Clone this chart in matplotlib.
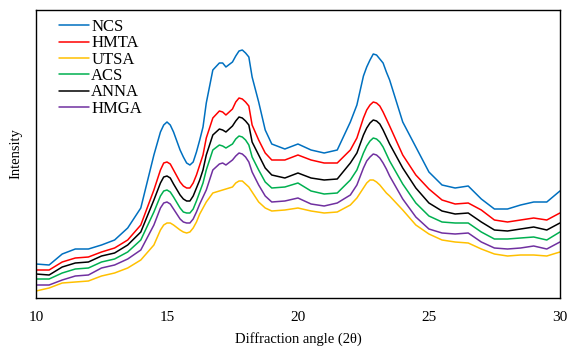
import matplotlib
matplotlib.use('Agg')
import matplotlib.pyplot as plt

plt.rcParams['font.family'] = ['Liberation Serif', 'DejaVu Serif']

# diffraction angle (2theta)
two_theta = [10, 10.5, 11, 11.5, 12, 12.5, 13, 13.5, 14, 14.5, 14.75, 14.875,
             15, 15.125, 15.25, 15.5, 15.625, 15.75, 15.875, 16, 16.125, 16.25, 16.375,
             16.5, 16.75, 17, 17.125, 17.25, 17.5, 17.625, 17.75, 17.875, 18, 18.125,
             18.25, 18.5, 18.75, 19, 19.5, 20, 20.5, 21, 21.5, 22, 22.25, 22.5, 22.625,
             22.75, 22.875, 23, 23.125, 23.25, 23.375, 23.5, 24, 24.5, 25, 25.5, 26,
             26.5, 27, 27.5, 28, 28.5, 29, 29.5, 30]

# intensities (arbitrary units, stacked traces)
ncs = [34, 33, 44, 49, 49, 53, 58, 70, 90, 143, 166, 173,
       176, 173, 166, 148, 141, 135, 133, 136, 146, 158, 171,
       195, 228, 235, 235, 231, 236, 242, 247, 248, 245, 241,
       221, 196, 168, 154, 149, 154, 148, 145, 148, 176, 193, 222, 231,
       238, 244, 243, 239, 235, 226, 218, 176, 151, 126, 113, 110,
       112, 99, 89, 89, 93, 96, 96, 107]
hmta = [28, 28, 36, 40, 41, 46, 50, 58, 73, 108, 128, 135,
        136, 134, 128, 116, 112, 110, 110, 115, 123, 133, 143,
        160, 180, 187, 186, 183, 189, 196, 200, 199, 196, 192,
        173, 158, 145, 138, 138, 143, 138, 135, 135, 148, 160, 180, 188,
        193, 196, 195, 192, 186, 179, 172, 143, 123, 109, 98, 94,
        95, 88, 78, 76, 78, 80, 78, 85]
utsa = [7, 10, 15, 16, 17, 22, 25, 30, 38, 53, 68, 73,
        75, 75, 73, 68, 66, 65, 66, 70, 76, 84, 90,
        96, 105, 107, 108, 109, 111, 115, 117, 117, 114, 111,
        106, 96, 90, 87, 88, 90, 87, 85, 86, 93, 100, 110, 115,
        118, 118, 116, 113, 109, 105, 102, 88, 73, 64, 58, 56,
        55, 49, 44, 42, 43, 43, 42, 46]
acs = [19, 19, 25, 29, 30, 36, 39, 46, 58, 86, 102, 107,
       108, 106, 101, 90, 86, 85, 85, 89, 97, 106, 115,
       128, 148, 153, 152, 150, 154, 159, 162, 161, 158, 153,
       141, 128, 116, 110, 111, 115, 107, 104, 105, 118, 128, 145, 152,
       157, 160, 159, 156, 151, 144, 137, 114, 95, 82, 76, 75,
       75, 66, 59, 59, 60, 61, 58, 66]
anna = [24, 23, 31, 35, 36, 42, 45, 53, 66, 98, 115, 121,
        122, 120, 114, 103, 99, 97, 97, 102, 110, 118, 128,
        143, 163, 169, 168, 166, 172, 177, 181, 180, 177, 173,
        156, 143, 130, 123, 120, 125, 120, 118, 119, 135, 145, 163, 170,
        175, 178, 177, 174, 168, 161, 154, 130, 110, 95, 87, 84,
        85, 76, 68, 67, 69, 71, 68, 75]
hmga = [13, 13, 18, 22, 23, 30, 33, 39, 48, 73, 90, 95,
        96, 94, 89, 79, 76, 75, 75, 79, 86, 94, 101,
        108, 128, 134, 135, 133, 138, 142, 145, 144, 141, 136,
        126, 113, 102, 96, 97, 100, 94, 92, 95, 103, 113, 130, 137,
        141, 144, 143, 140, 135, 129, 122, 99, 81, 69, 65, 64,
        65, 56, 50, 49, 50, 52, 49, 56]

series = [('NCS', ncs, '#0070C0'),
          ('HMTA', hmta, '#FF0000'),
          ('UTSA', utsa, '#FFC000'),
          ('ACS', acs, '#00B050'),
          ('ANNA', anna, '#000000'),
          ('HMGA', hmga, '#7030A0')]

fig = plt.figure(figsize=(5.69, 3.52), dpi=100)
ax = fig.add_axes([0.0633, 0.1534, 0.9207, 0.8182])

for name, vals, col in series:
    ax.plot(two_theta, vals, color=col, linewidth=1.1, label=name,
            solid_joinstyle='round', solid_capstyle='round')

ax.set_xlim(10, 30)
ax.set_ylim(0, 288)
ax.set_xticks([10, 15, 20, 25, 30])
ax.set_yticks([])
ax.tick_params(axis='x', length=0, pad=9, labelsize=11)
for sp in ax.spines.values():
    sp.set_linewidth(1.0)

ax.set_xlabel('Diffraction angle (2θ)', fontsize=10.5, labelpad=6)
ax.set_ylabel('Intensity', fontsize=10.5, labelpad=10)

ax.legend(loc='upper left', bbox_to_anchor=(0.026, 1.0), frameon=False, fontsize=12,
          handlelength=1.8, handletextpad=0.15, labelspacing=0.02, borderaxespad=0.15)

plt.savefig('out.png', dpi=100)
